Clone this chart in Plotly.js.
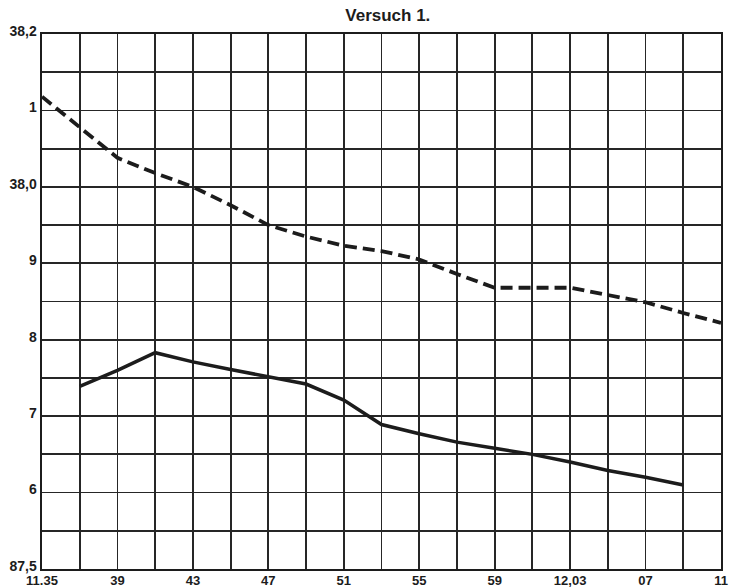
<!DOCTYPE html>
<html>
<head>
<meta charset="utf-8">
<script src="https://cdn.plot.ly/plotly-3.0.1.min.js"></script>
<style>html,body{margin:0;padding:0;background:#fff;}#chart{width:729px;height:587px;}</style>
</head>
<body>
<div id="chart"></div>
<script>
// minutes after 11.35
var dashedTimes = [0, 4, 6, 8, 10, 12, 14, 16, 18, 20, 22, 24, 28, 30, 32, 34, 36];
var dashedValues = [38.118, 38.038, 38.018, 38.0, 37.976, 37.95, 37.935, 37.923, 37.916, 37.905, 37.886, 37.868, 37.868, 37.858, 37.849, 37.835, 37.822];

var solidTimes = [2, 4, 6, 8, 10, 12, 14, 16, 18, 20, 22, 24, 26, 28, 30, 32, 34];
var solidValues = [37.739, 37.76, 37.783, 37.771, 37.761, 37.752, 37.742, 37.721, 37.689, 37.677, 37.666, 37.658, 37.65, 37.64, 37.629, 37.62, 37.61];

var xTickVals = [0, 4, 8, 12, 16, 20, 24, 28, 32, 36];
var xTickLabels = ["11.35", "39", "43", "47", "51", "55", "59", "12,03", "07", "11"];

var yTickVals = [38.2, 38.1, 38.0, 37.9, 37.8, 37.7, 37.6, 37.5];
var yTickLabels = ["38,2", "1", "38,0", "9", "8", "7", "6", "87,5"];

var ink = "#1c1c1c";
var fontFam = "'Liberation Sans Narrow', 'Liberation Sans', Arial, sans-serif";

var traces = [
  {
    x: dashedTimes, y: dashedValues, type: "scatter", mode: "lines",
    line: {color: ink, width: 3.8, dash: "12px,6px"}, showlegend: false, hoverinfo: "x+y"
  },
  {
    x: solidTimes, y: solidValues, type: "scatter", mode: "lines",
    line: {color: ink, width: 3.5}, showlegend: false, hoverinfo: "x+y"
  }
];

var layout = {
  width: 729, height: 587,
  margin: {l: 42, r: 8, t: 34, b: 18, pad: 0},
  paper_bgcolor: "#ffffff", plot_bgcolor: "#ffffff",
  title: {
    text: "Versuch 1.",
    x: 0.532, xanchor: "center", y: 0.975, yanchor: "middle",
    font: {family: fontFam, size: 17, color: ink, weight: "bold"}
  },
  xaxis: {
    range: [0, 36], tickmode: "array", tickvals: xTickVals, ticktext: xTickLabels,
    showgrid: true, gridcolor: "#262626", gridwidth: 1.8,
    minor: {dtick: 2, showgrid: true, gridcolor: "#262626", gridwidth: 1.8, ticks: ""},
    showline: true, linecolor: ink, linewidth: 2.4, mirror: true,
    ticks: "", zeroline: false, fixedrange: true, automargin: false,
    ticklabelstandoff: -2, ticklabelshift: 0, ticklabeloverflow: "allow",
    tickfont: {family: fontFam, size: 13, color: ink, weight: "bold"}
  },
  yaxis: {
    range: [37.5, 38.2], tickmode: "array", tickvals: yTickVals, ticktext: yTickLabels,
    showgrid: true, gridcolor: "#262626", gridwidth: 1.8,
    minor: {dtick: 0.05, tick0: 37.5, showgrid: true, gridcolor: "#262626", gridwidth: 1.8, ticks: ""},
    showline: true, linecolor: ink, linewidth: 2.4, mirror: true,
    ticks: "", zeroline: false, fixedrange: true, automargin: false,
    ticklabelshift: -3, ticklabeloverflow: "allow",
    tickfont: {family: fontFam, size: 14, color: ink, weight: "bold"}
  }
};

Plotly.newPlot("chart", traces, layout, {displayModeBar: false, staticPlot: true});
</script>
</body>
</html>
